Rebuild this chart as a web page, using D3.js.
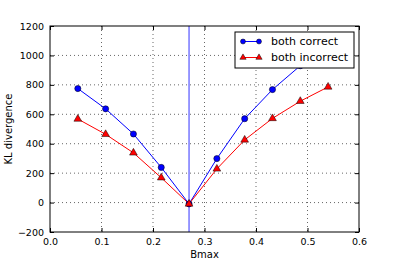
<!DOCTYPE html>
<html>
<head>
<meta charset="utf-8">
<script src="https://cdn.jsdelivr.net/npm/d3@7"></script>
<style>
  body { margin: 0; background: #fff; }
  svg { display: block; font-family: "DejaVu Sans", sans-serif; }
</style>
</head>
<body>
<svg id="chart" width="399" height="266"></svg>
<script>
// data
const bmax = [0.054, 0.108, 0.162, 0.216, 0.27, 0.324, 0.378, 0.432, 0.486, 0.54];
const bothCorrect = [775, 637, 466, 239, -9, 299, 570, 768, 930, 1080];
const bothIncorrect = [568, 464, 338, 169, -9, 229, 426, 572, 689, 786];
const vline = 0.27;
const xTicks = [0.0, 0.1, 0.2, 0.3, 0.4, 0.5, 0.6];
const yTicks = [-200, 0, 200, 400, 600, 800, 1000, 1200];

const m = [26, 40, 34, 50]; // top right bottom left
const W = 399, H = 266;
const w = W - m[1] - m[3], h = H - m[0] - m[2];

const svg = d3.select("#chart");
const g = svg.append("g").attr("transform", "translate(" + m[3] + "," + m[0] + ")");

const x = d3.scaleLinear().domain([0, 0.6]).range([0, w]);
const y = d3.scaleLinear().domain([-200, 1200]).range([h, 0]);

g.append("defs").append("clipPath").attr("id", "clip")
  .append("rect").attr("width", w).attr("height", h);

// grid
g.selectAll(".gx").data(xTicks.slice(1, -1)).enter().append("line")
  .attr("x1", d => x(d)).attr("x2", d => x(d)).attr("y1", 0).attr("y2", h)
  .attr("stroke", "#000").attr("stroke-width", 0.6).attr("stroke-dasharray", "1,3");
g.selectAll(".gy").data(yTicks.slice(1, -1)).enter().append("line")
  .attr("y1", d => y(d)).attr("y2", d => y(d)).attr("x1", 0).attr("x2", w)
  .attr("stroke", "#000").attr("stroke-width", 0.6).attr("stroke-dasharray", "1,3");

// axes (ticks pointing inward, on all sides)
const fmtX = d3.format(".1f");
const fmtY = d => d3.format("d")(d).replace("-", "\u2212");
g.append("g").attr("transform", "translate(0," + h + ")")
  .call(d3.axisBottom(x).tickValues(xTicks).tickFormat(fmtX).tickSizeInner(-4).tickSizeOuter(0).tickPadding(6));
g.append("g").call(d3.axisTop(x).tickValues(xTicks).tickFormat("").tickSizeInner(-4).tickSizeOuter(0));
g.append("g")
  .call(d3.axisLeft(y).tickValues(yTicks).tickFormat(fmtY).tickSizeInner(-4).tickSizeOuter(0).tickPadding(6));
g.append("g").attr("transform", "translate(" + w + ",0)")
  .call(d3.axisRight(y).tickValues(yTicks).tickFormat("").tickSizeInner(-4).tickSizeOuter(0));
g.selectAll(".domain").remove();
g.selectAll(".tick text").attr("font-size", 9.5).attr("fill", "#000").attr("font-family", "DejaVu Sans, sans-serif");
g.selectAll(".tick line").attr("stroke", "#000");

// vertical line
g.append("line").attr("x1", x(vline)).attr("x2", x(vline)).attr("y1", 0).attr("y2", h)
  .attr("stroke", "#7f7fff").attr("stroke-width", 1.6);

const series = [
  { name: "both correct", vals: bothCorrect, color: "#0000ff", shape: d3.symbolCircle, size: 30 },
  { name: "both incorrect", vals: bothIncorrect, color: "#ff0000", shape: d3.symbolTriangle, size: 26 }
];
const line = d3.line().x((d, i) => x(bmax[i])).y(d => y(d));
const plot = g.append("g").attr("clip-path", "url(#clip)");
series.forEach(s => {
  plot.append("path").datum(s.vals).attr("d", line)
    .attr("fill", "none").attr("stroke", s.color).attr("stroke-width", 1);
});
series.forEach(s => {
  plot.selectAll(null).data(s.vals).enter().append("path")
    .attr("d", d3.symbol().type(s.shape).size(s.size))
    .attr("transform", (d, i) => "translate(" + x(bmax[i]) + "," + y(d) + ")")
    .attr("fill", s.color).attr("stroke", "#000").attr("stroke-width", 0.5);
});

// frame
g.append("rect").attr("width", w).attr("height", h)
  .attr("fill", "none").attr("stroke", "#000").attr("stroke-width", 1);

// legend
const lg = g.append("g").attr("transform", "translate(" + (235 - m[3]) + "," + (32 - m[0]) + ")");
lg.append("rect").attr("width", 119).attr("height", 36)
  .attr("fill", "#fff").attr("stroke", "#000").attr("stroke-width", 1);
series.forEach((s, i) => {
  const yy = 9.5 + i * 16;
  lg.append("line").attr("x1", 8).attr("x2", 24).attr("y1", yy).attr("y2", yy)
    .attr("stroke", s.color).attr("stroke-width", 1);
  [8, 24].forEach(px => {
    lg.append("path")
      .attr("d", d3.symbol().type(s.shape).size(s.size * 0.65))
      .attr("transform", "translate(" + px + "," + yy + ")")
      .attr("fill", s.color).attr("stroke", "#000").attr("stroke-width", 0.5);
  });
  lg.append("text").attr("x", 36).attr("y", yy).attr("dy", "0.35em")
    .attr("font-size", 11).text(s.name);
});

// axis labels
svg.append("text").attr("x", m[3] + w / 2).attr("y", 258)
  .attr("text-anchor", "middle").attr("font-size", 10).text("Bmax");
svg.append("text").attr("transform", "translate(12," + (m[0] + h / 2) + ") rotate(-90)")
  .attr("text-anchor", "middle").attr("font-size", 10).text("KL divergence");
</script>
</body>
</html>
